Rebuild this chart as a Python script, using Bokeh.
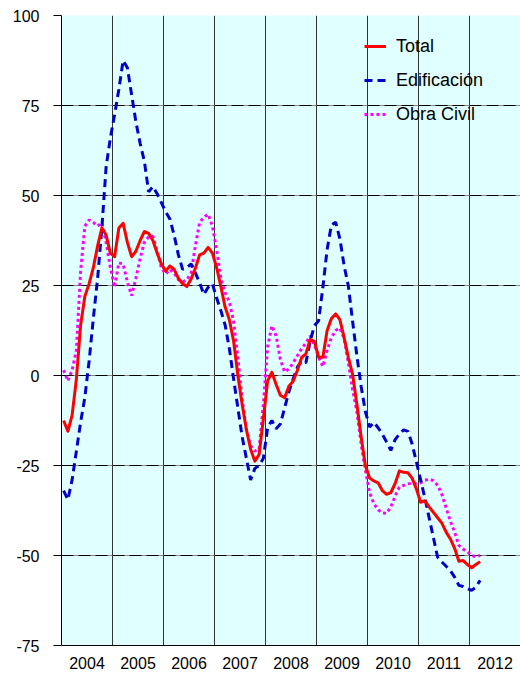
import numpy as np
from bokeh.plotting import figure
from bokeh.models import Range1d, FixedTicker, Grid, Legend, LegendItem
from bokeh.embed import file_html
from bokeh.resources import INLINE

years = [2004, 2005, 2006, 2007, 2008, 2009, 2010, 2011, 2012]
y_ticks = [-75, -50, -25, 0, 25, 50, 75, 100]

total = [
    -12.5, -15.5, -11, -1, 14, 22, 25.5, 30, 36, 41,
    39, 34, 33, 41, 42.3, 37, 33, 34.5, 37.5, 40,
    39.5, 37.5, 34, 31, 29, 30.4, 29.5, 27, 25.5, 24.7,
    26.8, 29.8, 33.5, 34, 35.6, 34, 30, 24.7, 19, 15.5,
    9.5, 0, -8, -15, -20.5, -23.8, -21.9, -12, -1.5, 0.9,
    -2.5, -5.5, -6.2, -3, -1.6, 1.4, 5, 6, 10, 9.5,
    5.1, 5.1, 12.5, 15.8, 17.1, 15.5, 10.5, 5, 0.3, -8,
    -17, -25, -28.5, -29.3, -29.8, -32, -33, -32.5, -30, -26.5,
    -26.9, -27, -28.5, -31.5, -35.2, -34.8, -36.5, -38, -39.5, -41,
    -43.5, -45.4, -48, -51.6, -51.4, -52.5, -53.4, -52.5, -51.7,
]

edificacion = [
    -32, -34.5, -29, -21, -13, -6, 4, 16, 27, 41,
    58, 66, 72.5, 79.5, 87.5, 85.5, 78, 70.5, 64.5, 59.5,
    51, 52.5, 50.5, 48, 45.5, 43.5, 39, 33.5, 29.5, 30,
    31, 28.5, 25.8, 22.5, 24.5, 25.5, 21.5, 18, 14, 7.5,
    -1, -9, -17, -23, -29, -25.8, -25, -23, -14.5, -12.5,
    -14.8, -13.5, -9, -4.5, -1, 2.3, 4, 3.5, 9.5, 13.8,
    15.2, 24.5, 35, 41.8, 42.6, 38, 30.5, 24.8, 15, 5.5,
    -3, -10, -14.3, -13, -14.5, -16.3, -18.5, -20.8, -17.8, -16.3,
    -15.1, -15.5, -19, -24, -29, -34, -39.5, -45, -50.5, -51.8,
    -53, -54.2, -56, -58.3, -58.6, -59.2, -59.7, -58.8, -56.9,
]

obra_civil = [
    1.5, -1.5, 1.5, 7, 29, 41.5, 43.2, 42.5, 41.5, 42.4,
    37, 30, 24.5, 31.3, 31, 26, 22.2, 27, 32.5, 37,
    38.5, 38.7, 34.5, 30, 28.2, 29.5, 28.5, 26.6, 26, 26.5,
    28.5, 36, 42.5, 44, 44.8, 41.5, 35, 27, 23, 20.5,
    15, 5, -6.5, -15, -19.5, -21, -20.5, -8, 8, 13.8,
    11, 4.5, 1, 1.8, 3.5, 5.5, 7.5, 9, 11, 8.5,
    5, 2.5, 7, 10.5, 12.5, 13.2, 10.3, 3.5, -4, -10,
    -19, -26.3, -32.5, -35.6, -37.3, -38.2, -38.3, -36.5, -33.5, -31,
    -30.5, -30.1, -29.9, -30, -29.8, -29.1, -28.8, -29.2, -30.5, -33,
    -36.8, -40.5, -43.5, -47.2, -48.2, -49, -50, -50.3, -50,
]

months = np.arange(len(total)) + 0.5
n_months = 12 * len(years)

p = figure(width=520, height=675, output_backend="svg", toolbar_location=None,
           x_range=Range1d(0, n_months), y_range=Range1d(y_ticks[0], y_ticks[-1]),
           min_border_left=61, min_border_right=0, min_border_top=15, min_border_bottom=30)
p.background_fill_color = "#E0FFFF"
p.border_fill_color = "white"
p.outline_line_color = None

# grids
p.xgrid.ticker = FixedTicker(ticks=[12 * k for k in range(1, len(years) + 1)])
p.xgrid.grid_line_color = "#333333"
p.xgrid.grid_line_width = 1
p.ygrid.ticker = FixedTicker(ticks=y_ticks)
p.ygrid.grid_line_color = "#8a8a8a"
p.ygrid.grid_line_width = 1
dash_grid = Grid(dimension=1, ticker=FixedTicker(ticks=y_ticks),
                 grid_line_color="black", grid_line_dash="12 5", grid_line_width=1)
p.add_layout(dash_grid)

# axes
p.yaxis.ticker = FixedTicker(ticks=y_ticks)
p.yaxis.major_label_overrides = {t: str(t) for t in y_ticks}
p.yaxis.major_tick_out = 8
p.yaxis.major_tick_in = 0
p.yaxis.minor_tick_line_color = None
p.yaxis.axis_line_color = "black"
p.yaxis.major_tick_line_color = "black"
p.yaxis.major_label_text_font = "Liberation Sans"
p.yaxis.major_label_text_font_size = "16px"
p.yaxis.major_label_text_color = "black"
p.yaxis.major_label_standoff = 14

label_pos = [12 * k + 6 for k in range(len(years))]
p.xaxis.ticker = FixedTicker(ticks=label_pos)
p.xaxis.major_label_overrides = {pos: str(y) for pos, y in zip(label_pos, years)}
p.xaxis.major_tick_out = 0
p.xaxis.major_tick_in = 0
p.xaxis.minor_tick_line_color = None
p.xaxis.axis_line_color = "black"
p.xaxis.major_label_text_font = "Liberation Sans"
p.xaxis.major_label_text_font_size = "16px"
p.xaxis.major_label_text_color = "black"
p.xaxis.major_label_standoff = 11

r_obra = p.line(months, obra_civil, line_color="#FF00FF", line_width=3, line_dash="3 3")
r_edif = p.line(months, edificacion, line_color="#0000C8", line_width=3, line_dash="8 5")
r_total = p.line(months, total, line_color="#FF0000", line_width=3, line_join="round")

legend = Legend(items=[LegendItem(label="Total", renderers=[r_total]),
                       LegendItem(label="Edificación", renderers=[r_edif]),
                       LegendItem(label="Obra Civil", renderers=[r_obra])],
                location=(303, 519))
legend.padding = 0
legend.margin = 0
legend.spacing = 10
legend.glyph_width = 22
legend.glyph_height = 24
legend.label_height = 24
legend.label_standoff = 10
legend.label_text_font = "Liberation Sans"
legend.label_text_font_size = "18px"
legend.label_text_color = "black"
legend.border_line_color = None
legend.background_fill_alpha = 0
p.add_layout(legend)

open("out.html", "w").write(file_html(p, INLINE))
